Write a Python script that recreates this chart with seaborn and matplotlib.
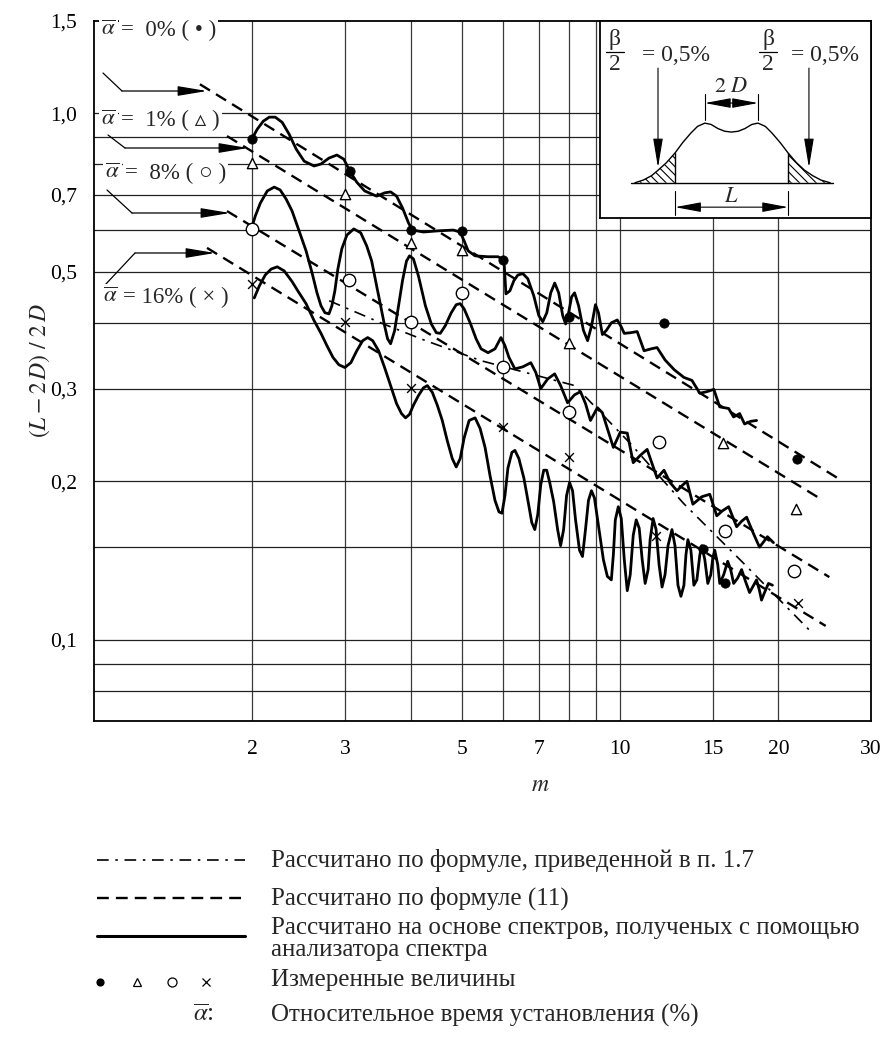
import matplotlib
matplotlib.use("Agg")
import matplotlib.pyplot as plt
from matplotlib.lines import Line2D
from matplotlib.patches import FancyArrowPatch
import seaborn as sns

# ---------------- data ----------------
# solid curves: computed from analyser spectra
curve_0_m = [2.000, 2.044, 2.098, 2.154, 2.211, 2.279, 2.350, 2.423, 2.509, 2.620,
             2.701, 2.797, 2.896, 2.985, 3.064, 3.158, 3.270, 3.445, 3.568, 3.663,
             3.760, 3.859, 3.962, 4.032, 4.229, 4.513, 4.818, 4.967, 5.055, 5.144,
             5.303, 5.612, 5.861, 6.016, 6.042, 6.069, 6.175, 6.284, 6.394, 6.535,
             6.679, 6.856, 7.007, 7.130, 7.257, 7.384, 7.514, 7.645, 7.780, 7.882,
             7.985, 8.090, 8.196, 8.341, 8.520, 8.677, 8.830, 8.981, 9.100, 9.258,
             9.420, 9.627, 9.881, 10.055, 10.186, 10.457, 10.780, 11.11, 11.46, 11.76,
             12.18, 12.67, 13.23, 13.70, 14.18, 14.62, 15.08, 15.47, 16.09, 16.44,
             16.88, 17.25, 17.71, 18.18]
curve_0_ratio = [0.897, 0.933, 0.966, 0.983, 0.983, 0.961, 0.912, 0.855, 0.811, 0.794,
                 0.801, 0.822, 0.833, 0.818, 0.777, 0.740, 0.712, 0.696, 0.706, 0.709,
                 0.696, 0.661, 0.619, 0.600, 0.595, 0.598, 0.600, 0.595, 0.572, 0.548,
                 0.536, 0.534, 0.534, 0.527, 0.491, 0.454, 0.460, 0.481, 0.493, 0.496,
                 0.485, 0.450, 0.413, 0.402, 0.418, 0.456, 0.476, 0.456, 0.413, 0.398,
                 0.418, 0.448, 0.456, 0.431, 0.387, 0.370, 0.395, 0.433, 0.418, 0.380,
                 0.387, 0.400, 0.405, 0.393, 0.382, 0.383, 0.385, 0.354, 0.357, 0.359,
                 0.340, 0.326, 0.315, 0.311, 0.294, 0.296, 0.299, 0.277, 0.275, 0.265,
                 0.269, 0.257, 0.260, 0.261]

curve_8_m = [1.991, 2.026, 2.071, 2.135, 2.201, 2.259, 2.319, 2.380, 2.454, 2.530,
             2.597, 2.654, 2.701, 2.748, 2.797, 2.833, 2.870, 2.908, 2.959, 3.025,
             3.118, 3.214, 3.299, 3.372, 3.446, 3.507, 3.568, 3.615, 3.663, 3.727,
             3.793, 3.859, 3.927, 3.979, 4.048, 4.138, 4.266, 4.378, 4.475, 4.553,
             4.654, 4.777, 4.882, 4.968, 5.055, 5.189, 5.326, 5.443, 5.612, 5.785,
             5.938, 6.043, 6.149, 6.312, 6.535, 6.767, 6.916, 7.068, 7.287, 7.512,
             7.710, 7.949, 8.195, 8.412, 8.597, 8.786, 9.058, 9.257, 9.461, 9.712,
             10.012, 10.322, 10.595, 10.923, 11.261, 11.508, 11.761, 12.125, 12.446, 12.831,
             13.170, 13.402, 13.756, 14.306, 14.813, 15.272, 15.676, 16.091, 16.661, 17.028,
             17.403, 17.942, 18.416, 19.069, 19.574]
curve_8_ratio = [0.603, 0.638, 0.675, 0.712, 0.724, 0.715, 0.687, 0.652, 0.598, 0.548,
                 0.498, 0.456, 0.431, 0.418, 0.416, 0.431, 0.460, 0.506, 0.553, 0.587,
                 0.603, 0.593, 0.560, 0.524, 0.470, 0.431, 0.395, 0.373, 0.365, 0.386,
                 0.431, 0.481, 0.524, 0.536, 0.529, 0.491, 0.431, 0.398, 0.383, 0.382,
                 0.395, 0.418, 0.433, 0.435, 0.425, 0.400, 0.373, 0.357, 0.351, 0.357,
                 0.375, 0.362, 0.344, 0.327, 0.330, 0.336, 0.322, 0.300, 0.313, 0.320,
                 0.304, 0.282, 0.292, 0.296, 0.281, 0.261, 0.276, 0.270, 0.252, 0.232,
                 0.248, 0.247, 0.217, 0.224, 0.230, 0.216, 0.203, 0.210, 0.199, 0.192,
                 0.197, 0.200, 0.181, 0.187, 0.189, 0.172, 0.176, 0.179, 0.164, 0.168,
                 0.171, 0.159, 0.150, 0.157, 0.153]

curve_16_m = [2.017, 2.062, 2.116, 2.172, 2.230, 2.299, 2.380, 2.454, 2.530, 2.620,
              2.701, 2.772, 2.846, 2.921, 2.998, 3.078, 3.159, 3.242, 3.314, 3.387,
              3.476, 3.568, 3.663, 3.760, 3.842, 3.910, 3.979, 4.048, 4.138, 4.229,
              4.303, 4.398, 4.494, 4.593, 4.694, 4.798, 4.882, 4.968, 5.055, 5.166,
              5.303, 5.420, 5.539, 5.661, 5.785, 5.887, 5.964, 6.043, 6.122, 6.230,
              6.312, 6.422, 6.564, 6.708, 6.796, 6.886, 6.976, 7.068, 7.161, 7.255,
              7.351, 7.479, 7.610, 7.710, 7.812, 7.914, 8.018, 8.124, 8.231, 8.375,
              8.485, 8.597, 8.710, 8.825, 8.941, 9.098, 9.298, 9.461, 9.627, 9.712,
              9.796, 9.925, 10.056, 10.188, 10.322, 10.457, 10.595, 10.734, 10.875, 11.019,
              11.163, 11.310, 11.408, 11.558, 11.710, 11.864, 12.020, 12.178, 12.338, 12.554,
              12.719, 12.887, 13.056, 13.228, 13.344, 13.460, 13.637, 13.816, 13.998, 14.182,
              14.306, 14.494, 14.685, 14.878, 15.008, 15.139, 15.338, 15.473, 15.744, 16.021,
              16.231, 16.444, 16.733, 17.028, 17.327, 17.632, 17.942, 18.178, 18.416, 18.577,
              18.822, 19.152, 19.489]
curve_16_ratio = [0.446, 0.470, 0.493, 0.506, 0.511, 0.502, 0.479, 0.456, 0.435, 0.404,
                  0.382, 0.362, 0.344, 0.333, 0.329, 0.336, 0.354, 0.370, 0.375, 0.370,
                  0.354, 0.329, 0.304, 0.281, 0.269, 0.264, 0.268, 0.279, 0.291, 0.301,
                  0.304, 0.295, 0.279, 0.261, 0.239, 0.221, 0.213, 0.221, 0.242, 0.261,
                  0.264, 0.252, 0.232, 0.205, 0.184, 0.175, 0.174, 0.188, 0.212, 0.227,
                  0.229, 0.221, 0.203, 0.180, 0.167, 0.162, 0.173, 0.197, 0.210, 0.210,
                  0.199, 0.183, 0.162, 0.151, 0.162, 0.188, 0.199, 0.192, 0.169, 0.148,
                  0.144, 0.162, 0.184, 0.192, 0.186, 0.165, 0.142, 0.132, 0.130, 0.145,
                  0.169, 0.179, 0.170, 0.142, 0.124, 0.133, 0.158, 0.169, 0.163, 0.142,
                  0.128, 0.136, 0.155, 0.170, 0.162, 0.139, 0.126, 0.133, 0.151, 0.162,
                  0.151, 0.127, 0.121, 0.127, 0.145, 0.155, 0.148, 0.127, 0.130, 0.145,
                  0.151, 0.142, 0.128, 0.133, 0.143, 0.148, 0.139, 0.128, 0.133, 0.141,
                  0.136, 0.128, 0.131, 0.136, 0.129, 0.123, 0.127, 0.130, 0.124, 0.119,
                  0.123, 0.128, 0.127]

# dashed lines: formula (11)
f11_0_m, f11_0_ratio = [1.59, 25.9], [1.135, 0.203]
f11_1_m, f11_1_ratio = [1.79, 23.9], [0.905, 0.186]
f11_8_m, f11_8_ratio = [1.79, 25.0], [0.652, 0.1316]
f11_16_m, f11_16_ratio = [1.64, 24.6], [0.555, 0.1063]

# dash-dot line: formula of item 1.7
f17_m = [2.80, 3.55, 4.27, 5.44, 8.2, 10.46, 13.2, 17.15, 22.9]
f17_ratio = [0.4405, 0.398, 0.370, 0.339, 0.304, 0.236, 0.1817, 0.140, 0.1044]

# measured values
meas_0_m = [2.0, 3.06, 4.0, 5.0, 6.0, 8.0, 12.1, 21.7, 14.4, 15.8]
meas_0_ratio = [0.895, 0.777, 0.600, 0.598, 0.527, 0.411, 0.399, 0.221, 0.149, 0.128]
meas_1_m = [2.0, 3.0, 4.0, 5.0, 8.0, 15.7, 21.6]
meas_1_ratio = [0.805, 0.702, 0.566, 0.550, 0.366, 0.237, 0.1776]
meas_8_m = [2.0, 3.05, 4.0, 5.0, 6.0, 8.0, 11.85, 15.8, 21.4]
meas_8_ratio = [0.602, 0.482, 0.401, 0.455, 0.330, 0.271, 0.238, 0.161, 0.135]
meas_16_m = [2.0, 3.0, 4.0, 6.0, 8.0, 11.7, 21.8]
meas_16_ratio = [0.475, 0.401, 0.301, 0.2535, 0.222, 0.1576, 0.1173]

x_ticks = [2, 3, 5, 7, 10, 15, 20, 30]
x_tick_labels = ["2", "3", "5", "7", "10", "15", "20", "30"]
x_grid = [2, 3, 4, 5, 6, 7, 8, 9, 10, 15, 20]
y_ticks = [0.1, 0.2, 0.3, 0.5, 0.7, 1.0, 1.5]
y_tick_labels = ["0,1", "0,2", "0,3", "0,5", "0,7", "1,0", "1,5"]
y_grid = [0.08, 0.09, 0.1, 0.15, 0.2, 0.3, 0.4, 0.5, 0.6, 0.7, 0.8, 0.9, 1.0]

alpha_labels = ["=  0% ( • )", "=  1% ( ▵ )", "=  8% ( ○ )", "= 16% ( × )"]

# schematic spectrum in the inset (arbitrary units)
profile_u = [12.9, 16.0, 19.0, 21.4, 24.5, 27.7, 30.5, 33.5, 36.0, 38.7, 41.0, 43.5, 46.0,
             48.5, 51.0, 53.5, 56.0, 58.3, 61.0, 63.5, 66.5, 69.4, 72.5, 75.5, 78.5, 81.5, 84.9]
profile_v = [0.0, 1.0, 2.6, 4.6, 7.4, 11.0, 14.8, 18.3, 20.8, 22.0, 21.5, 20.0, 19.0,
             18.7, 19.0, 20.0, 21.5, 22.0, 20.8, 18.3, 14.8, 11.0, 7.4, 4.6, 2.6, 1.0, 0.0]

# ---------------- style ----------------
sns.set_theme(style="white")
plt.rcParams["font.family"] = ["Liberation Serif", "DejaVu Sans"]
plt.rcParams["mathtext.fontset"] = "stix"
plt.rcParams["hatch.linewidth"] = 0.8

W, H = 883, 1042
fig = plt.figure(figsize=(W / 100, H / 100), dpi=100)
fig.patch.set_facecolor("white")


def fxy(px, py):
    return px / W, 1 - py / H


ax = fig.add_axes([94 / W, 1 - 720.5 / H, 777 / W, 700 / H])
ax.set_xscale("log")
ax.set_yscale("log")
ax.set_xlim(1, 30)
ax.set_ylim(0.0703, 1.5)

for g in x_grid:
    ax.axvline(g, color="#3a3a3a", lw=0.9, zorder=1)
for g in y_grid:
    ax.axhline(g, color="#222222", lw=0.9, zorder=1)

ax.set_xticks(x_ticks)
ax.set_xticklabels(x_tick_labels)
ax.set_yticks(y_ticks)
ax.set_yticklabels(y_tick_labels)
ax.xaxis.set_minor_locator(matplotlib.ticker.NullLocator())
ax.yaxis.set_minor_locator(matplotlib.ticker.NullLocator())
ax.tick_params(axis="both", length=0, labelsize=15.5, colors="black")
ax.tick_params(axis="x", pad=14)
ax.tick_params(axis="y", pad=12)
for s in ax.spines.values():
    s.set_color("black")
    s.set_linewidth(1.3)

ax.set_xlabel(r"$m$", fontsize=17)
ax.xaxis.set_label_coords(0.575, -0.078)
ax.set_ylabel(r"$(L - 2\,D)\ /\ 2\,D$", fontsize=17)
ax.yaxis.set_label_coords(-0.054, 0.5)

solid_kw = dict(color="black", lw=2.0, estimator=None, sort=False, legend=False, zorder=4)
for xs, ys in [(curve_0_m, curve_0_ratio), (curve_8_m, curve_8_ratio), (curve_16_m, curve_16_ratio)]:
    sns.lineplot(x=xs, y=ys, ax=ax, **solid_kw)

dash_kw = dict(color="black", lw=1.7, estimator=None, sort=False, legend=False, zorder=3)
for xs, ys in [(f11_0_m, f11_0_ratio), (f11_1_m, f11_1_ratio), (f11_8_m, f11_8_ratio), (f11_16_m, f11_16_ratio)]:
    line = sns.lineplot(x=xs, y=ys, ax=ax, **dash_kw).lines[-1]
    line.set_dashes((5, 3))

dd = sns.lineplot(x=f17_m, y=f17_ratio, ax=ax, color="black", lw=1.2, estimator=None,
                  sort=False, legend=False, zorder=3).lines[-1]
dd.set_dashes((7, 4, 1.5, 4))

sns.scatterplot(x=meas_0_m, y=meas_0_ratio, ax=ax, marker="o", s=45, color="black",
                edgecolor="black", zorder=6, legend=False)
sns.scatterplot(x=meas_1_m, y=meas_1_ratio, ax=ax, marker="^", s=55, facecolor="white",
                edgecolor="black", linewidth=1.0, zorder=6, legend=False)
sns.scatterplot(x=meas_8_m, y=meas_8_ratio, ax=ax, marker="o", s=80, facecolor="white",
                edgecolor="black", linewidth=1.0, zorder=6, legend=False)
sns.scatterplot(x=meas_16_m, y=meas_16_ratio, ax=ax, marker="x", s=40, color="black",
                linewidth=1.0, zorder=6, legend=False)

# ---- labels with pointer arrows ----
label_pos = [(101, 30), (101, 120), (105, 173), (103, 297)]
pointers = [
    [(103, 73), (122, 91), (207, 91)],
    [(108, 135), (125, 148), (248, 148)],
    [(107, 190), (132, 213), (230, 213)],
    [(105, 285), (135, 253), (215, 253)],
]
box = dict(facecolor="white", edgecolor="none", pad=1.5)
for text, (px, py) in zip(alpha_labels, label_pos):
    fig.text(*fxy(px, py), r"$\overline{\alpha}$", fontsize=16.5, ha="left", va="center",
             bbox=box, zorder=8)
    fig.text(*fxy(px + 20, py), text, fontsize=16.5, ha="left", va="center",
             bbox=box, zorder=8)
for pts in pointers:
    xy = [fxy(*p) for p in pts]
    fig.add_artist(Line2D([xy[0][0], xy[1][0]], [xy[0][1], xy[1][1]],
                          transform=fig.transFigure, color="black", lw=0.9, zorder=8))
    fig.add_artist(FancyArrowPatch(xy[1], xy[2], transform=fig.transFigure,
                                   arrowstyle="-|>,head_length=1.8,head_width=0.3",
                                   mutation_scale=10, color="black", lw=0.9,
                                   shrinkA=0, shrinkB=0, zorder=8))

# ---- inset schematic ----
ins = fig.add_axes([600 / W, 1 - 218 / H, 271 / W, 197.5 / H])
ins.set_zorder(10)
ins.set_facecolor("white")
ins.set_xlim(0, 100)
ins.set_ylim(-13.0, 59.85)
ins.set_xticks([])
ins.set_yticks([])
for s in ins.spines.values():
    s.set_color("black")
    s.set_linewidth(1.3)

ins.plot(profile_u, profile_v, color="black", lw=1.0)
ins.plot([11.5, 86.0], [0, 0], color="black", lw=1.0)
left = [i for i, u in enumerate(profile_u) if u <= 27.7]
right = [i for i, u in enumerate(profile_u) if u >= 69.4]
for idx in (left, right):
    ins.fill_between([profile_u[i] for i in idx], 0, [profile_v[i] for i in idx],
                     facecolor="none", edgecolor="black", hatch="\\\\\\\\", lw=0)
for u_b in (27.7, 69.4):
    v_b = profile_v[profile_u.index(u_b)]
    ins.plot([u_b, u_b], [0, v_b], color="black", lw=1.0)
    ins.plot([u_b, u_b], [-3.0, -12.0], color="black", lw=0.8)
ins.annotate("", xy=(69.4, -9.0), xytext=(27.7, -9.0),
             arrowprops=dict(arrowstyle="<|-|>,head_length=1.6,head_width=0.3",
                             mutation_scale=10, color="black", lw=0.8, shrinkA=0, shrinkB=0))
ins.text(48.5, -5.3, r"$L$", fontsize=16, ha="center", va="center")
for u_b in (38.7, 58.3):
    ins.plot([u_b, u_b], [23.3, 32.8], color="black", lw=0.8)
ins.annotate("", xy=(58.3, 29.4), xytext=(38.7, 29.4),
             arrowprops=dict(arrowstyle="<|-|>,head_length=1.6,head_width=0.3",
                             mutation_scale=10, color="black", lw=0.8, shrinkA=0, shrinkB=0))
ins.text(48.5, 35.2, r"$2\ D$", fontsize=16, ha="center", va="center")
for u_a, u_f, u_eq in ((21.4, 5.5, 15.4), (77.1, 62.0, 70.4)):
    ins.annotate("", xy=(u_a, 5.6), xytext=(u_a, 42.3),
                 arrowprops=dict(arrowstyle="-|>,head_length=1.8,head_width=0.3",
                                 mutation_scale=10, color="black", lw=0.8, shrinkA=0, shrinkB=0))
    ins.text(u_f, 53.0, "β", fontsize=17, ha="center", va="center")
    ins.plot([u_f - 3.4, u_f + 3.4], [48.4, 48.4], color="black", lw=0.9)
    ins.text(u_f, 43.6, "2", fontsize=17, ha="center", va="center")
    ins.text(u_eq, 47.0, "= 0,5%", fontsize=17, ha="left", va="center")


# ---- legend block ----
def legend_line(py, **kw):
    (x0, y0), (x1, _) = fxy(97, py), fxy(245, py)
    fig.add_artist(Line2D([x0, x1], [y0, y0], transform=fig.transFigure, color="black", **kw))


legend_line(860, lw=1.2, dashes=(7, 4, 1.5, 4))
legend_line(898, lw=1.7, dashes=(5, 3))
legend_line(936, lw=2.2)
fs_leg = 18
fig.text(*fxy(271, 860), "Рассчитано по формуле, приведенной в п. 1.7", fontsize=fs_leg, va="center")
fig.text(*fxy(271, 898), "Рассчитано по формуле (11)", fontsize=fs_leg, va="center")
fig.text(*fxy(271, 939), "Рассчитано на основе спектров, полученых с помощью\nанализатора спектра",
         fontsize=fs_leg, va="center", linespacing=0.98)
fig.text(*fxy(271, 980), "Измеренные величины", fontsize=fs_leg, va="center")
fig.text(*fxy(271, 1015), "Относительное время установления (%)", fontsize=fs_leg, va="center")
fig.text(*fxy(214, 1015), r"$\overline{\alpha}$:", fontsize=fs_leg, va="center", ha="right")
for px, mk, fc, sz in ((100, "o", "black", 5), (137, "^", "white", 6),
                       (172, "o", "white", 6.5), (206, "x", "black", 6)):
    x, y = fxy(px, 982)
    fig.add_artist(Line2D([x], [y], transform=fig.transFigure, marker=mk, markersize=sz,
                          markerfacecolor=fc, markeredgecolor="black", markeredgewidth=0.9,
                          linestyle="none"))

fig.savefig("out.png", dpi=100, facecolor="white")
